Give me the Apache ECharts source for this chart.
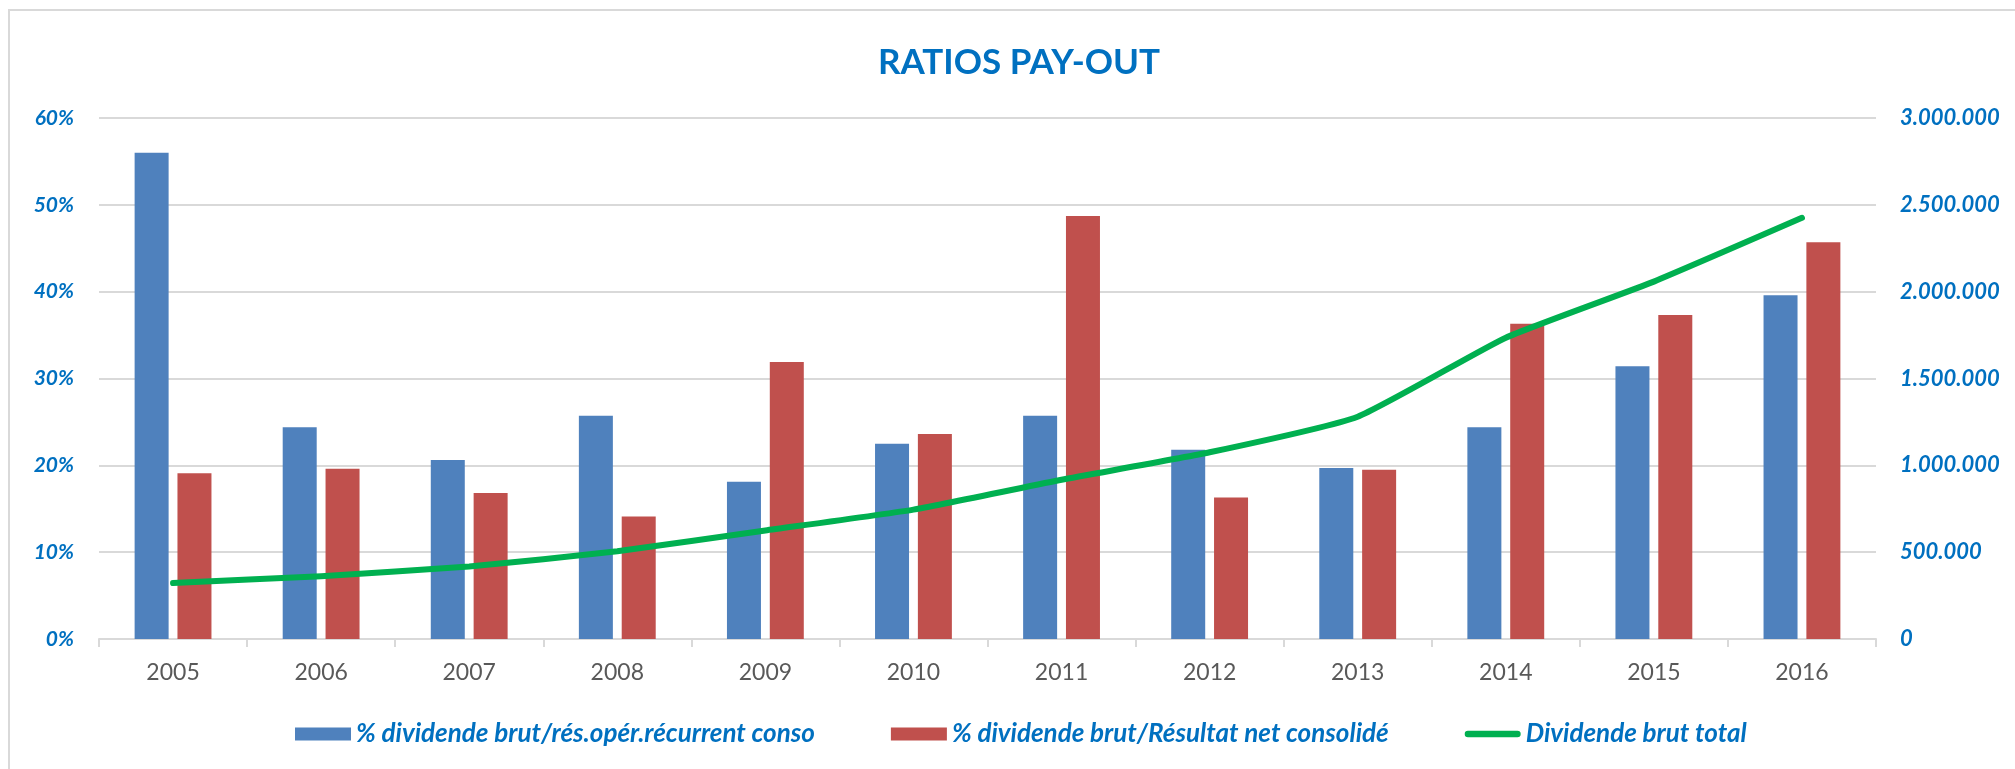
<!DOCTYPE html>
<html>
<head>
<meta charset="utf-8">
<script src="https://cdn.jsdelivr.net/npm/echarts@6/dist/echarts.min.js"></script>
<style>
html,body{margin:0;padding:0;background:#fff;}
#chart{width:2015px;height:769px;}
</style>
</head>
<body>
<div id="chart"></div>
<script>
const years = ['2005','2006','2007','2008','2009','2010','2011','2012','2013','2014','2015','2016'];
const pctRecurrent = [0.560,0.244,0.206,0.257,0.181,0.225,0.257,0.218,0.197,0.244,0.314,0.396];
const pctNet = [0.191,0.196,0.168,0.141,0.319,0.236,0.487,0.163,0.195,0.363,0.373,0.457];
const dividendTotal = [322000,362000,418000,505000,625000,745000,917000,1075000,1280000,1735000,2058000,2425000];
const seriesNames = ['% dividende brut/rés.opér.récurrent conso','% dividende brut/Résultat net consolidé','Dividende brut total'];
const titleText = 'RATIOS PAY-OUT';

const FONT = 'Lato';
const BLUE_TXT = '#0070c0';

function fmtThousands(v){
  return String(Math.round(v)).replace(/\B(?=(\d{3})+(?!\d))/g,'.');
}

const chart = echarts.init(document.getElementById('chart'));
chart.setOption({
  animation:false,
  backgroundColor:'#ffffff',
  textStyle:{fontFamily:FONT},
  graphic:[{
    type:'rect',
    shape:{x:9,y:10,width:2100,height:900},
    style:{fill:'none',stroke:'#d9d9d9',lineWidth:2},
    silent:true
  }],
  title:{
    text:titleText,
    left:1014, top:40, textAlign:'center',
    textStyle:{fontFamily:FONT,fontSize:35,fontWeight:'bold',color:BLUE_TXT}
  },
  legend:{
    left:290, top:716,
    itemWidth:56, itemHeight:13, itemGap:76,
    textStyle:{fontFamily:FONT,fontSize:26,fontWeight:'bold',fontStyle:'italic',color:BLUE_TXT},
    data:[
      {name:seriesNames[0],icon:'rect'},
      {name:seriesNames[1],icon:'rect'},
      {name:seriesNames[2],icon:'path://M3.5,0 H56.5 A3.5,3.5 0 0 1 56.5,7 H3.5 A3.5,3.5 0 0 1 3.5,0 Z',itemStyle:{color:'#00b050'}}
    ]
  },
  grid:{left:99,right:139,top:118,bottom:130},
  xAxis:{
    type:'category',
    data:years,
    axisLine:{lineStyle:{color:'#d9d9d9',width:2}},
    axisTick:{show:true,length:8,lineStyle:{color:'#d9d9d9',width:2}},
    axisLabel:{color:'#595959',fontSize:23,margin:22,fontFamily:FONT}
  },
  yAxis:[{
    type:'value',min:0,max:0.6,interval:0.1,
    axisLine:{show:false},axisTick:{show:false},
    splitLine:{lineStyle:{color:'#d9d9d9',width:2}},
    axisLabel:{color:BLUE_TXT,fontSize:21,fontWeight:'bold',fontStyle:'italic',margin:25,fontFamily:FONT,
      formatter:v=>Math.round(v*100)+'%'}
  },{
    type:'value',min:0,max:3000000,interval:500000,
    axisLine:{show:false},axisTick:{show:false},
    splitLine:{show:false},
    axisLabel:{color:BLUE_TXT,fontSize:22,fontWeight:'bold',fontStyle:'italic',margin:24,fontFamily:FONT,
      formatter:v=>fmtThousands(v)}
  }],
  series:[{
    name:seriesNames[0],type:'bar',data:pctRecurrent,
    barWidth:34,barGap:'26%',
    itemStyle:{color:'#4f81bd'}
  },{
    name:seriesNames[1],type:'bar',data:pctNet,
    barWidth:34,
    itemStyle:{color:'#c0504d'}
  },{
    name:seriesNames[2],type:'line',yAxisIndex:1,data:dividendTotal,
    symbol:'none',smooth:0.15,
    lineStyle:{color:'#00b050',width:6,cap:'round',join:'round'},
    itemStyle:{color:'#00b050'}
  }]
});
</script>
</body>
</html>
